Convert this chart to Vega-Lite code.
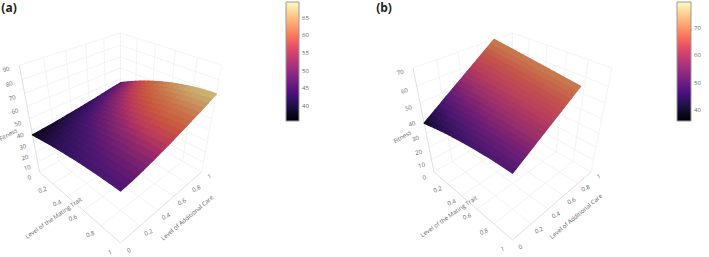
{"$schema":"https://vega.github.io/schema/vega-lite/v6.json","width":709,"height":257,"padding":0,"autosize":{"type":"none"},"background":"white","config":{"view":{"stroke":null}},
"projection":{"type":"identity","scale":1,"translate":[0,0]},
"datasets":{
"surfaceA":[
{"m":0,"c":0,"f":36},{"m":0,"c":0.05,"f":36.2},{"m":0,"c":0.1,"f":36.6},{"m":0,"c":0.15,"f":36.9},{"m":0,"c":0.2,"f":37.3},{"m":0,"c":0.25,"f":37.8},{"m":0,"c":0.3,"f":38.2},{"m":0,"c":0.35,"f":38.7},{"m":0,"c":0.4,"f":39.2},{"m":0,"c":0.45,"f":39.7},{"m":0,"c":0.5,"f":40.2},{"m":0,"c":0.55,"f":40.7},{"m":0,"c":0.6,"f":41.3},{"m":0,"c":0.65,"f":41.8},{"m":0,"c":0.7,"f":42.4},{"m":0,"c":0.75,"f":43},{"m":0,"c":0.8,"f":43.6},{"m":0,"c":0.85,"f":44.2},{"m":0,"c":0.9,"f":44.8},{"m":0,"c":0.95,"f":45.4},{"m":0,"c":1,"f":46},
{"m":0.05,"c":0,"f":36.8},{"m":0.05,"c":0.05,"f":37.1},{"m":0.05,"c":0.1,"f":37.4},{"m":0.05,"c":0.15,"f":37.8},{"m":0.05,"c":0.2,"f":38.3},{"m":0.05,"c":0.25,"f":38.8},{"m":0.05,"c":0.3,"f":39.3},{"m":0.05,"c":0.35,"f":39.8},{"m":0.05,"c":0.4,"f":40.4},{"m":0.05,"c":0.45,"f":40.9},{"m":0.05,"c":0.5,"f":41.5},{"m":0.05,"c":0.55,"f":42.1},{"m":0.05,"c":0.6,"f":42.7},{"m":0.05,"c":0.65,"f":43.3},{"m":0.05,"c":0.7,"f":44},{"m":0.05,"c":0.75,"f":44.6},{"m":0.05,"c":0.8,"f":45.3},{"m":0.05,"c":0.85,"f":45.9},{"m":0.05,"c":0.9,"f":46.6},{"m":0.05,"c":0.95,"f":47.3},{"m":0.05,"c":1,"f":48},
{"m":0.1,"c":0,"f":37.5},{"m":0.1,"c":0.05,"f":37.8},{"m":0.1,"c":0.1,"f":38.2},{"m":0.1,"c":0.15,"f":38.7},{"m":0.1,"c":0.2,"f":39.2},{"m":0.1,"c":0.25,"f":39.7},{"m":0.1,"c":0.3,"f":40.3},{"m":0.1,"c":0.35,"f":40.8},{"m":0.1,"c":0.4,"f":41.4},{"m":0.1,"c":0.45,"f":42.1},{"m":0.1,"c":0.5,"f":42.7},{"m":0.1,"c":0.55,"f":43.4},{"m":0.1,"c":0.6,"f":44},{"m":0.1,"c":0.65,"f":44.7},{"m":0.1,"c":0.7,"f":45.4},{"m":0.1,"c":0.75,"f":46.2},{"m":0.1,"c":0.8,"f":46.9},{"m":0.1,"c":0.85,"f":47.6},{"m":0.1,"c":0.9,"f":48.4},{"m":0.1,"c":0.95,"f":49.1},{"m":0.1,"c":1,"f":49.9},
{"m":0.15,"c":0,"f":38.2},{"m":0.15,"c":0.05,"f":38.5},{"m":0.15,"c":0.1,"f":39},{"m":0.15,"c":0.15,"f":39.5},{"m":0.15,"c":0.2,"f":40},{"m":0.15,"c":0.25,"f":40.6},{"m":0.15,"c":0.3,"f":41.2},{"m":0.15,"c":0.35,"f":41.9},{"m":0.15,"c":0.4,"f":42.5},{"m":0.15,"c":0.45,"f":43.2},{"m":0.15,"c":0.5,"f":43.9},{"m":0.15,"c":0.55,"f":44.6},{"m":0.15,"c":0.6,"f":45.4},{"m":0.15,"c":0.65,"f":46.1},{"m":0.15,"c":0.7,"f":46.9},{"m":0.15,"c":0.75,"f":47.7},{"m":0.15,"c":0.8,"f":48.5},{"m":0.15,"c":0.85,"f":49.3},{"m":0.15,"c":0.9,"f":50.1},{"m":0.15,"c":0.95,"f":51},{"m":0.15,"c":1,"f":51.8},
{"m":0.2,"c":0,"f":38.9},{"m":0.2,"c":0.05,"f":39.3},{"m":0.2,"c":0.1,"f":39.7},{"m":0.2,"c":0.15,"f":40.3},{"m":0.2,"c":0.2,"f":40.9},{"m":0.2,"c":0.25,"f":41.5},{"m":0.2,"c":0.3,"f":42.2},{"m":0.2,"c":0.35,"f":42.9},{"m":0.2,"c":0.4,"f":43.6},{"m":0.2,"c":0.45,"f":44.3},{"m":0.2,"c":0.5,"f":45.1},{"m":0.2,"c":0.55,"f":45.9},{"m":0.2,"c":0.6,"f":46.7},{"m":0.2,"c":0.65,"f":47.5},{"m":0.2,"c":0.7,"f":48.3},{"m":0.2,"c":0.75,"f":49.2},{"m":0.2,"c":0.8,"f":50},{"m":0.2,"c":0.85,"f":50.9},{"m":0.2,"c":0.9,"f":51.8},{"m":0.2,"c":0.95,"f":52.7},{"m":0.2,"c":1,"f":53.6},
{"m":0.25,"c":0,"f":39.6},{"m":0.25,"c":0.05,"f":40},{"m":0.25,"c":0.1,"f":40.5},{"m":0.25,"c":0.15,"f":41.1},{"m":0.25,"c":0.2,"f":41.7},{"m":0.25,"c":0.25,"f":42.4},{"m":0.25,"c":0.3,"f":43.1},{"m":0.25,"c":0.35,"f":43.8},{"m":0.25,"c":0.4,"f":44.6},{"m":0.25,"c":0.45,"f":45.4},{"m":0.25,"c":0.5,"f":46.2},{"m":0.25,"c":0.55,"f":47},{"m":0.25,"c":0.6,"f":47.9},{"m":0.25,"c":0.65,"f":48.8},{"m":0.25,"c":0.7,"f":49.6},{"m":0.25,"c":0.75,"f":50.6},{"m":0.25,"c":0.8,"f":51.5},{"m":0.25,"c":0.85,"f":52.4},{"m":0.25,"c":0.9,"f":53.4},{"m":0.25,"c":0.95,"f":54.3},{"m":0.25,"c":1,"f":55.3},
{"m":0.3,"c":0,"f":40.2},{"m":0.3,"c":0.05,"f":40.6},{"m":0.3,"c":0.1,"f":41.1},{"m":0.3,"c":0.15,"f":41.8},{"m":0.3,"c":0.2,"f":42.4},{"m":0.3,"c":0.25,"f":43.2},{"m":0.3,"c":0.3,"f":43.9},{"m":0.3,"c":0.35,"f":44.7},{"m":0.3,"c":0.4,"f":45.5},{"m":0.3,"c":0.45,"f":46.4},{"m":0.3,"c":0.5,"f":47.2},{"m":0.3,"c":0.55,"f":48.1},{"m":0.3,"c":0.6,"f":49},{"m":0.3,"c":0.65,"f":50},{"m":0.3,"c":0.7,"f":50.9},{"m":0.3,"c":0.75,"f":51.9},{"m":0.3,"c":0.8,"f":52.8},{"m":0.3,"c":0.85,"f":53.8},{"m":0.3,"c":0.9,"f":54.8},{"m":0.3,"c":0.95,"f":55.9},{"m":0.3,"c":1,"f":56.9},
{"m":0.35,"c":0,"f":40.8},{"m":0.35,"c":0.05,"f":41.2},{"m":0.35,"c":0.1,"f":41.8},{"m":0.35,"c":0.15,"f":42.4},{"m":0.35,"c":0.2,"f":43.2},{"m":0.35,"c":0.25,"f":43.9},{"m":0.35,"c":0.3,"f":44.7},{"m":0.35,"c":0.35,"f":45.6},{"m":0.35,"c":0.4,"f":46.4},{"m":0.35,"c":0.45,"f":47.3},{"m":0.35,"c":0.5,"f":48.2},{"m":0.35,"c":0.55,"f":49.2},{"m":0.35,"c":0.6,"f":50.1},{"m":0.35,"c":0.65,"f":51.1},{"m":0.35,"c":0.7,"f":52.1},{"m":0.35,"c":0.75,"f":53.2},{"m":0.35,"c":0.8,"f":54.2},{"m":0.35,"c":0.85,"f":55.2},{"m":0.35,"c":0.9,"f":56.3},{"m":0.35,"c":0.95,"f":57.4},{"m":0.35,"c":1,"f":58.5},
{"m":0.4,"c":0,"f":41.3},{"m":0.4,"c":0.05,"f":41.7},{"m":0.4,"c":0.1,"f":42.3},{"m":0.4,"c":0.15,"f":43},{"m":0.4,"c":0.2,"f":43.8},{"m":0.4,"c":0.25,"f":44.6},{"m":0.4,"c":0.3,"f":45.4},{"m":0.4,"c":0.35,"f":46.3},{"m":0.4,"c":0.4,"f":47.2},{"m":0.4,"c":0.45,"f":48.2},{"m":0.4,"c":0.5,"f":49.1},{"m":0.4,"c":0.55,"f":50.1},{"m":0.4,"c":0.6,"f":51.1},{"m":0.4,"c":0.65,"f":52.2},{"m":0.4,"c":0.7,"f":53.2},{"m":0.4,"c":0.75,"f":54.3},{"m":0.4,"c":0.8,"f":55.4},{"m":0.4,"c":0.85,"f":56.5},{"m":0.4,"c":0.9,"f":57.6},{"m":0.4,"c":0.95,"f":58.7},{"m":0.4,"c":1,"f":59.9},
{"m":0.45,"c":0,"f":41.8},{"m":0.45,"c":0.05,"f":42.3},{"m":0.45,"c":0.1,"f":42.9},{"m":0.45,"c":0.15,"f":43.6},{"m":0.45,"c":0.2,"f":44.4},{"m":0.45,"c":0.25,"f":45.2},{"m":0.45,"c":0.3,"f":46.1},{"m":0.45,"c":0.35,"f":47},{"m":0.45,"c":0.4,"f":48},{"m":0.45,"c":0.45,"f":49},{"m":0.45,"c":0.5,"f":50},{"m":0.45,"c":0.55,"f":51},{"m":0.45,"c":0.6,"f":52},{"m":0.45,"c":0.65,"f":53.1},{"m":0.45,"c":0.7,"f":54.2},{"m":0.45,"c":0.75,"f":55.3},{"m":0.45,"c":0.8,"f":56.5},{"m":0.45,"c":0.85,"f":57.6},{"m":0.45,"c":0.9,"f":58.8},{"m":0.45,"c":0.95,"f":60},{"m":0.45,"c":1,"f":61.2},
{"m":0.5,"c":0,"f":42.3},{"m":0.5,"c":0.05,"f":42.8},{"m":0.5,"c":0.1,"f":43.4},{"m":0.5,"c":0.15,"f":44.2},{"m":0.5,"c":0.2,"f":45},{"m":0.5,"c":0.25,"f":45.9},{"m":0.5,"c":0.3,"f":46.8},{"m":0.5,"c":0.35,"f":47.7},{"m":0.5,"c":0.4,"f":48.7},{"m":0.5,"c":0.45,"f":49.8},{"m":0.5,"c":0.5,"f":50.8},{"m":0.5,"c":0.55,"f":51.9},{"m":0.5,"c":0.6,"f":53},{"m":0.5,"c":0.65,"f":54.1},{"m":0.5,"c":0.7,"f":55.2},{"m":0.5,"c":0.75,"f":56.4},{"m":0.5,"c":0.8,"f":57.6},{"m":0.5,"c":0.85,"f":58.8},{"m":0.5,"c":0.9,"f":60},{"m":0.5,"c":0.95,"f":61.2},{"m":0.5,"c":1,"f":62.5},
{"m":0.55,"c":0,"f":42.8},{"m":0.55,"c":0.05,"f":43.3},{"m":0.55,"c":0.1,"f":44},{"m":0.55,"c":0.15,"f":44.7},{"m":0.55,"c":0.2,"f":45.6},{"m":0.55,"c":0.25,"f":46.5},{"m":0.55,"c":0.3,"f":47.4},{"m":0.55,"c":0.35,"f":48.4},{"m":0.55,"c":0.4,"f":49.4},{"m":0.55,"c":0.45,"f":50.5},{"m":0.55,"c":0.5,"f":51.6},{"m":0.55,"c":0.55,"f":52.7},{"m":0.55,"c":0.6,"f":53.8},{"m":0.55,"c":0.65,"f":55},{"m":0.55,"c":0.7,"f":56.2},{"m":0.55,"c":0.75,"f":57.4},{"m":0.55,"c":0.8,"f":58.6},{"m":0.55,"c":0.85,"f":59.9},{"m":0.55,"c":0.9,"f":61.1},{"m":0.55,"c":0.95,"f":62.4},{"m":0.55,"c":1,"f":63.7},
{"m":0.6,"c":0,"f":43.2},{"m":0.6,"c":0.05,"f":43.7},{"m":0.6,"c":0.1,"f":44.4},{"m":0.6,"c":0.15,"f":45.2},{"m":0.6,"c":0.2,"f":46.1},{"m":0.6,"c":0.25,"f":47},{"m":0.6,"c":0.3,"f":48},{"m":0.6,"c":0.35,"f":49},{"m":0.6,"c":0.4,"f":50.1},{"m":0.6,"c":0.45,"f":51.2},{"m":0.6,"c":0.5,"f":52.3},{"m":0.6,"c":0.55,"f":53.4},{"m":0.6,"c":0.6,"f":54.6},{"m":0.6,"c":0.65,"f":55.8},{"m":0.6,"c":0.7,"f":57},{"m":0.6,"c":0.75,"f":58.3},{"m":0.6,"c":0.8,"f":59.6},{"m":0.6,"c":0.85,"f":60.8},{"m":0.6,"c":0.9,"f":62.1},{"m":0.6,"c":0.95,"f":63.5},{"m":0.6,"c":1,"f":64.8},
{"m":0.65,"c":0,"f":43.6},{"m":0.65,"c":0.05,"f":44.1},{"m":0.65,"c":0.1,"f":44.8},{"m":0.65,"c":0.15,"f":45.7},{"m":0.65,"c":0.2,"f":46.6},{"m":0.65,"c":0.25,"f":47.5},{"m":0.65,"c":0.3,"f":48.5},{"m":0.65,"c":0.35,"f":49.6},{"m":0.65,"c":0.4,"f":50.7},{"m":0.65,"c":0.45,"f":51.8},{"m":0.65,"c":0.5,"f":52.9},{"m":0.65,"c":0.55,"f":54.1},{"m":0.65,"c":0.6,"f":55.3},{"m":0.65,"c":0.65,"f":56.6},{"m":0.65,"c":0.7,"f":57.8},{"m":0.65,"c":0.75,"f":59.1},{"m":0.65,"c":0.8,"f":60.4},{"m":0.65,"c":0.85,"f":61.7},{"m":0.65,"c":0.9,"f":63.1},{"m":0.65,"c":0.95,"f":64.4},{"m":0.65,"c":1,"f":65.8},
{"m":0.7,"c":0,"f":43.9},{"m":0.7,"c":0.05,"f":44.4},{"m":0.7,"c":0.1,"f":45.2},{"m":0.7,"c":0.15,"f":46},{"m":0.7,"c":0.2,"f":46.9},{"m":0.7,"c":0.25,"f":47.9},{"m":0.7,"c":0.3,"f":48.9},{"m":0.7,"c":0.35,"f":50},{"m":0.7,"c":0.4,"f":51.1},{"m":0.7,"c":0.45,"f":52.3},{"m":0.7,"c":0.5,"f":53.4},{"m":0.7,"c":0.55,"f":54.7},{"m":0.7,"c":0.6,"f":55.9},{"m":0.7,"c":0.65,"f":57.2},{"m":0.7,"c":0.7,"f":58.4},{"m":0.7,"c":0.75,"f":59.7},{"m":0.7,"c":0.8,"f":61.1},{"m":0.7,"c":0.85,"f":62.4},{"m":0.7,"c":0.9,"f":63.8},{"m":0.7,"c":0.95,"f":65.2},{"m":0.7,"c":1,"f":66.6},
{"m":0.75,"c":0,"f":44.2},{"m":0.75,"c":0.05,"f":44.8},{"m":0.75,"c":0.1,"f":45.5},{"m":0.75,"c":0.15,"f":46.4},{"m":0.75,"c":0.2,"f":47.3},{"m":0.75,"c":0.25,"f":48.3},{"m":0.75,"c":0.3,"f":49.3},{"m":0.75,"c":0.35,"f":50.4},{"m":0.75,"c":0.4,"f":51.6},{"m":0.75,"c":0.45,"f":52.8},{"m":0.75,"c":0.5,"f":53.9},{"m":0.75,"c":0.55,"f":55.2},{"m":0.75,"c":0.6,"f":56.4},{"m":0.75,"c":0.65,"f":57.7},{"m":0.75,"c":0.7,"f":59},{"m":0.75,"c":0.75,"f":60.4},{"m":0.75,"c":0.8,"f":61.8},{"m":0.75,"c":0.85,"f":63.1},{"m":0.75,"c":0.9,"f":64.5},{"m":0.75,"c":0.95,"f":66},{"m":0.75,"c":1,"f":67.4},
{"m":0.8,"c":0,"f":44.5},{"m":0.8,"c":0.05,"f":45.1},{"m":0.8,"c":0.1,"f":45.8},{"m":0.8,"c":0.15,"f":46.7},{"m":0.8,"c":0.2,"f":47.7},{"m":0.8,"c":0.25,"f":48.7},{"m":0.8,"c":0.3,"f":49.7},{"m":0.8,"c":0.35,"f":50.8},{"m":0.8,"c":0.4,"f":52},{"m":0.8,"c":0.45,"f":53.2},{"m":0.8,"c":0.5,"f":54.4},{"m":0.8,"c":0.55,"f":55.7},{"m":0.8,"c":0.6,"f":57},{"m":0.8,"c":0.65,"f":58.3},{"m":0.8,"c":0.7,"f":59.6},{"m":0.8,"c":0.75,"f":61},{"m":0.8,"c":0.8,"f":62.4},{"m":0.8,"c":0.85,"f":63.8},{"m":0.8,"c":0.9,"f":65.2},{"m":0.8,"c":0.95,"f":66.6},{"m":0.8,"c":1,"f":68.1},
{"m":0.85,"c":0,"f":44.7},{"m":0.85,"c":0.05,"f":45.3},{"m":0.85,"c":0.1,"f":46},{"m":0.85,"c":0.15,"f":46.9},{"m":0.85,"c":0.2,"f":47.9},{"m":0.85,"c":0.25,"f":48.9},{"m":0.85,"c":0.3,"f":50},{"m":0.85,"c":0.35,"f":51.2},{"m":0.85,"c":0.4,"f":52.3},{"m":0.85,"c":0.45,"f":53.6},{"m":0.85,"c":0.5,"f":54.8},{"m":0.85,"c":0.55,"f":56.1},{"m":0.85,"c":0.6,"f":57.4},{"m":0.85,"c":0.65,"f":58.7},{"m":0.85,"c":0.7,"f":60},{"m":0.85,"c":0.75,"f":61.5},{"m":0.85,"c":0.8,"f":62.9},{"m":0.85,"c":0.85,"f":64.3},{"m":0.85,"c":0.9,"f":65.7},{"m":0.85,"c":0.95,"f":67.2},{"m":0.85,"c":1,"f":68.7},
{"m":0.9,"c":0,"f":44.8},{"m":0.9,"c":0.05,"f":45.4},{"m":0.9,"c":0.1,"f":46.2},{"m":0.9,"c":0.15,"f":47.1},{"m":0.9,"c":0.2,"f":48},{"m":0.9,"c":0.25,"f":49.1},{"m":0.9,"c":0.3,"f":50.2},{"m":0.9,"c":0.35,"f":51.3},{"m":0.9,"c":0.4,"f":52.5},{"m":0.9,"c":0.45,"f":53.7},{"m":0.9,"c":0.5,"f":55},{"m":0.9,"c":0.55,"f":56.3},{"m":0.9,"c":0.6,"f":57.6},{"m":0.9,"c":0.65,"f":58.9},{"m":0.9,"c":0.7,"f":60.3},{"m":0.9,"c":0.75,"f":61.7},{"m":0.9,"c":0.8,"f":63.1},{"m":0.9,"c":0.85,"f":64.5},{"m":0.9,"c":0.9,"f":66},{"m":0.9,"c":0.95,"f":67.5},{"m":0.9,"c":1,"f":69},
{"m":0.95,"c":0,"f":45},{"m":0.95,"c":0.05,"f":45.6},{"m":0.95,"c":0.1,"f":46.4},{"m":0.95,"c":0.15,"f":47.3},{"m":0.95,"c":0.2,"f":48.3},{"m":0.95,"c":0.25,"f":49.3},{"m":0.95,"c":0.3,"f":50.4},{"m":0.95,"c":0.35,"f":51.6},{"m":0.95,"c":0.4,"f":52.8},{"m":0.95,"c":0.45,"f":54},{"m":0.95,"c":0.5,"f":55.2},{"m":0.95,"c":0.55,"f":56.6},{"m":0.95,"c":0.6,"f":57.9},{"m":0.95,"c":0.65,"f":59.2},{"m":0.95,"c":0.7,"f":60.6},{"m":0.95,"c":0.75,"f":62},{"m":0.95,"c":0.8,"f":63.5},{"m":0.95,"c":0.85,"f":64.9},{"m":0.95,"c":0.9,"f":66.4},{"m":0.95,"c":0.95,"f":67.9},{"m":0.95,"c":1,"f":69.4},
{"m":1,"c":0,"f":45},{"m":1,"c":0.05,"f":45.6},{"m":1,"c":0.1,"f":46.4},{"m":1,"c":0.15,"f":47.3},{"m":1,"c":0.2,"f":48.3},{"m":1,"c":0.25,"f":49.3},{"m":1,"c":0.3,"f":50.4},{"m":1,"c":0.35,"f":51.6},{"m":1,"c":0.4,"f":52.8},{"m":1,"c":0.45,"f":54},{"m":1,"c":0.5,"f":55.3},{"m":1,"c":0.55,"f":56.6},{"m":1,"c":0.6,"f":57.9},{"m":1,"c":0.65,"f":59.3},{"m":1,"c":0.7,"f":60.7},{"m":1,"c":0.75,"f":62.1},{"m":1,"c":0.8,"f":63.5},{"m":1,"c":0.85,"f":65},{"m":1,"c":0.9,"f":66.5},{"m":1,"c":0.95,"f":68},{"m":1,"c":1,"f":69.5}
],
"surfaceB":[
{"m":0,"j":0,"c":0,"f":37},{"m":0,"j":1,"c":0.039,"f":38.7},{"m":0,"j":2,"c":0.078,"f":40.3},{"m":0,"j":3,"c":0.117,"f":42},{"m":0,"j":4,"c":0.156,"f":43.6},{"m":0,"j":5,"c":0.195,"f":45.3},{"m":0,"j":6,"c":0.234,"f":47},{"m":0,"j":7,"c":0.273,"f":48.6},{"m":0,"j":8,"c":0.312,"f":50.2},{"m":0,"j":9,"c":0.351,"f":51.9},{"m":0,"j":10,"c":0.39,"f":53.5},{"m":0,"j":11,"c":0.429,"f":55.2},{"m":0,"j":12,"c":0.468,"f":56.8},{"m":0,"j":13,"c":0.507,"f":58.5},{"m":0,"j":14,"c":0.546,"f":60.1},{"m":0,"j":15,"c":0.585,"f":61.8},{"m":0,"j":16,"c":0.624,"f":63.4},{"m":0,"j":17,"c":0.663,"f":65.1},{"m":0,"j":18,"c":0.702,"f":66.7},{"m":0,"j":19,"c":0.741,"f":68.4},{"m":0,"j":20,"c":0.78,"f":70},
{"m":0.05,"j":0,"c":0,"f":37.8},{"m":0.05,"j":1,"c":0.039,"f":39.4},{"m":0.05,"j":2,"c":0.077,"f":41},{"m":0.05,"j":3,"c":0.116,"f":42.6},{"m":0.05,"j":4,"c":0.154,"f":44.2},{"m":0.05,"j":5,"c":0.193,"f":45.9},{"m":0.05,"j":6,"c":0.232,"f":47.5},{"m":0.05,"j":7,"c":0.27,"f":49.1},{"m":0.05,"j":8,"c":0.309,"f":50.7},{"m":0.05,"j":9,"c":0.347,"f":52.3},{"m":0.05,"j":10,"c":0.386,"f":53.9},{"m":0.05,"j":11,"c":0.425,"f":55.5},{"m":0.05,"j":12,"c":0.463,"f":57.1},{"m":0.05,"j":13,"c":0.502,"f":58.7},{"m":0.05,"j":14,"c":0.54,"f":60.3},{"m":0.05,"j":15,"c":0.579,"f":61.9},{"m":0.05,"j":16,"c":0.618,"f":63.6},{"m":0.05,"j":17,"c":0.656,"f":65.2},{"m":0.05,"j":18,"c":0.695,"f":66.8},{"m":0.05,"j":19,"c":0.733,"f":68.4},{"m":0.05,"j":20,"c":0.772,"f":70},
{"m":0.1,"j":0,"c":0,"f":38.5},{"m":0.1,"j":1,"c":0.038,"f":40.1},{"m":0.1,"j":2,"c":0.076,"f":41.7},{"m":0.1,"j":3,"c":0.115,"f":43.2},{"m":0.1,"j":4,"c":0.153,"f":44.8},{"m":0.1,"j":5,"c":0.191,"f":46.4},{"m":0.1,"j":6,"c":0.229,"f":48},{"m":0.1,"j":7,"c":0.267,"f":49.5},{"m":0.1,"j":8,"c":0.306,"f":51.1},{"m":0.1,"j":9,"c":0.344,"f":52.7},{"m":0.1,"j":10,"c":0.382,"f":54.3},{"m":0.1,"j":11,"c":0.42,"f":55.8},{"m":0.1,"j":12,"c":0.458,"f":57.4},{"m":0.1,"j":13,"c":0.497,"f":59},{"m":0.1,"j":14,"c":0.535,"f":60.6},{"m":0.1,"j":15,"c":0.573,"f":62.1},{"m":0.1,"j":16,"c":0.611,"f":63.7},{"m":0.1,"j":17,"c":0.649,"f":65.3},{"m":0.1,"j":18,"c":0.688,"f":66.9},{"m":0.1,"j":19,"c":0.726,"f":68.4},{"m":0.1,"j":20,"c":0.764,"f":70},
{"m":0.15,"j":0,"c":0,"f":39.2},{"m":0.15,"j":1,"c":0.038,"f":40.7},{"m":0.15,"j":2,"c":0.076,"f":42.3},{"m":0.15,"j":3,"c":0.113,"f":43.8},{"m":0.15,"j":4,"c":0.151,"f":45.4},{"m":0.15,"j":5,"c":0.189,"f":46.9},{"m":0.15,"j":6,"c":0.227,"f":48.4},{"m":0.15,"j":7,"c":0.265,"f":50},{"m":0.15,"j":8,"c":0.302,"f":51.5},{"m":0.15,"j":9,"c":0.34,"f":53.1},{"m":0.15,"j":10,"c":0.378,"f":54.6},{"m":0.15,"j":11,"c":0.416,"f":56.1},{"m":0.15,"j":12,"c":0.454,"f":57.7},{"m":0.15,"j":13,"c":0.491,"f":59.2},{"m":0.15,"j":14,"c":0.529,"f":60.8},{"m":0.15,"j":15,"c":0.567,"f":62.3},{"m":0.15,"j":16,"c":0.605,"f":63.8},{"m":0.15,"j":17,"c":0.643,"f":65.4},{"m":0.15,"j":18,"c":0.68,"f":66.9},{"m":0.15,"j":19,"c":0.718,"f":68.5},{"m":0.15,"j":20,"c":0.756,"f":70},
{"m":0.2,"j":0,"c":0,"f":39.9},{"m":0.2,"j":1,"c":0.037,"f":41.4},{"m":0.2,"j":2,"c":0.075,"f":42.9},{"m":0.2,"j":3,"c":0.112,"f":44.4},{"m":0.2,"j":4,"c":0.15,"f":45.9},{"m":0.2,"j":5,"c":0.187,"f":47.4},{"m":0.2,"j":6,"c":0.224,"f":48.9},{"m":0.2,"j":7,"c":0.262,"f":50.4},{"m":0.2,"j":8,"c":0.299,"f":51.9},{"m":0.2,"j":9,"c":0.337,"f":53.4},{"m":0.2,"j":10,"c":0.374,"f":55},{"m":0.2,"j":11,"c":0.411,"f":56.5},{"m":0.2,"j":12,"c":0.449,"f":58},{"m":0.2,"j":13,"c":0.486,"f":59.5},{"m":0.2,"j":14,"c":0.524,"f":61},{"m":0.2,"j":15,"c":0.561,"f":62.5},{"m":0.2,"j":16,"c":0.598,"f":64},{"m":0.2,"j":17,"c":0.636,"f":65.5},{"m":0.2,"j":18,"c":0.673,"f":67},{"m":0.2,"j":19,"c":0.711,"f":68.5},{"m":0.2,"j":20,"c":0.748,"f":70},
{"m":0.25,"j":0,"c":0,"f":40.6},{"m":0.25,"j":1,"c":0.037,"f":42.1},{"m":0.25,"j":2,"c":0.074,"f":43.5},{"m":0.25,"j":3,"c":0.111,"f":45},{"m":0.25,"j":4,"c":0.148,"f":46.5},{"m":0.25,"j":5,"c":0.185,"f":47.9},{"m":0.25,"j":6,"c":0.222,"f":49.4},{"m":0.25,"j":7,"c":0.259,"f":50.9},{"m":0.25,"j":8,"c":0.296,"f":52.4},{"m":0.25,"j":9,"c":0.333,"f":53.8},{"m":0.25,"j":10,"c":0.37,"f":55.3},{"m":0.25,"j":11,"c":0.407,"f":56.8},{"m":0.25,"j":12,"c":0.444,"f":58.2},{"m":0.25,"j":13,"c":0.481,"f":59.7},{"m":0.25,"j":14,"c":0.518,"f":61.2},{"m":0.25,"j":15,"c":0.555,"f":62.7},{"m":0.25,"j":16,"c":0.592,"f":64.1},{"m":0.25,"j":17,"c":0.629,"f":65.6},{"m":0.25,"j":18,"c":0.666,"f":67.1},{"m":0.25,"j":19,"c":0.703,"f":68.5},{"m":0.25,"j":20,"c":0.74,"f":70},
{"m":0.3,"j":0,"c":0,"f":41.2},{"m":0.3,"j":1,"c":0.037,"f":42.6},{"m":0.3,"j":2,"c":0.073,"f":44.1},{"m":0.3,"j":3,"c":0.11,"f":45.5},{"m":0.3,"j":4,"c":0.146,"f":47},{"m":0.3,"j":5,"c":0.183,"f":48.4},{"m":0.3,"j":6,"c":0.22,"f":49.8},{"m":0.3,"j":7,"c":0.256,"f":51.3},{"m":0.3,"j":8,"c":0.293,"f":52.7},{"m":0.3,"j":9,"c":0.329,"f":54.2},{"m":0.3,"j":10,"c":0.366,"f":55.6},{"m":0.3,"j":11,"c":0.403,"f":57},{"m":0.3,"j":12,"c":0.439,"f":58.5},{"m":0.3,"j":13,"c":0.476,"f":59.9},{"m":0.3,"j":14,"c":0.512,"f":61.4},{"m":0.3,"j":15,"c":0.549,"f":62.8},{"m":0.3,"j":16,"c":0.586,"f":64.2},{"m":0.3,"j":17,"c":0.622,"f":65.7},{"m":0.3,"j":18,"c":0.659,"f":67.1},{"m":0.3,"j":19,"c":0.695,"f":68.6},{"m":0.3,"j":20,"c":0.732,"f":70},
{"m":0.35,"j":0,"c":0,"f":41.8},{"m":0.35,"j":1,"c":0.036,"f":43.2},{"m":0.35,"j":2,"c":0.072,"f":44.6},{"m":0.35,"j":3,"c":0.109,"f":46},{"m":0.35,"j":4,"c":0.145,"f":47.4},{"m":0.35,"j":5,"c":0.181,"f":48.9},{"m":0.35,"j":6,"c":0.217,"f":50.3},{"m":0.35,"j":7,"c":0.253,"f":51.7},{"m":0.35,"j":8,"c":0.29,"f":53.1},{"m":0.35,"j":9,"c":0.326,"f":54.5},{"m":0.35,"j":10,"c":0.362,"f":55.9},{"m":0.35,"j":11,"c":0.398,"f":57.3},{"m":0.35,"j":12,"c":0.434,"f":58.7},{"m":0.35,"j":13,"c":0.471,"f":60.1},{"m":0.35,"j":14,"c":0.507,"f":61.5},{"m":0.35,"j":15,"c":0.543,"f":63},{"m":0.35,"j":16,"c":0.579,"f":64.4},{"m":0.35,"j":17,"c":0.615,"f":65.8},{"m":0.35,"j":18,"c":0.652,"f":67.2},{"m":0.35,"j":19,"c":0.688,"f":68.6},{"m":0.35,"j":20,"c":0.724,"f":70},
{"m":0.4,"j":0,"c":0,"f":42.3},{"m":0.4,"j":1,"c":0.036,"f":43.7},{"m":0.4,"j":2,"c":0.072,"f":45.1},{"m":0.4,"j":3,"c":0.107,"f":46.5},{"m":0.4,"j":4,"c":0.143,"f":47.8},{"m":0.4,"j":5,"c":0.179,"f":49.2},{"m":0.4,"j":6,"c":0.215,"f":50.6},{"m":0.4,"j":7,"c":0.251,"f":52},{"m":0.4,"j":8,"c":0.286,"f":53.4},{"m":0.4,"j":9,"c":0.322,"f":54.8},{"m":0.4,"j":10,"c":0.358,"f":56.2},{"m":0.4,"j":11,"c":0.394,"f":57.5},{"m":0.4,"j":12,"c":0.43,"f":58.9},{"m":0.4,"j":13,"c":0.465,"f":60.3},{"m":0.4,"j":14,"c":0.501,"f":61.7},{"m":0.4,"j":15,"c":0.537,"f":63.1},{"m":0.4,"j":16,"c":0.573,"f":64.5},{"m":0.4,"j":17,"c":0.609,"f":65.8},{"m":0.4,"j":18,"c":0.644,"f":67.2},{"m":0.4,"j":19,"c":0.68,"f":68.6},{"m":0.4,"j":20,"c":0.716,"f":70},
{"m":0.45,"j":0,"c":0,"f":42.8},{"m":0.45,"j":1,"c":0.035,"f":44.2},{"m":0.45,"j":2,"c":0.071,"f":45.5},{"m":0.45,"j":3,"c":0.106,"f":46.9},{"m":0.45,"j":4,"c":0.142,"f":48.2},{"m":0.45,"j":5,"c":0.177,"f":49.6},{"m":0.45,"j":6,"c":0.212,"f":51},{"m":0.45,"j":7,"c":0.248,"f":52.3},{"m":0.45,"j":8,"c":0.283,"f":53.7},{"m":0.45,"j":9,"c":0.319,"f":55},{"m":0.45,"j":10,"c":0.354,"f":56.4},{"m":0.45,"j":11,"c":0.389,"f":57.8},{"m":0.45,"j":12,"c":0.425,"f":59.1},{"m":0.45,"j":13,"c":0.46,"f":60.5},{"m":0.45,"j":14,"c":0.496,"f":61.8},{"m":0.45,"j":15,"c":0.531,"f":63.2},{"m":0.45,"j":16,"c":0.566,"f":64.6},{"m":0.45,"j":17,"c":0.602,"f":65.9},{"m":0.45,"j":18,"c":0.637,"f":67.3},{"m":0.45,"j":19,"c":0.673,"f":68.6},{"m":0.45,"j":20,"c":0.708,"f":70},
{"m":0.5,"j":0,"c":0,"f":43.3},{"m":0.5,"j":1,"c":0.035,"f":44.6},{"m":0.5,"j":2,"c":0.07,"f":46},{"m":0.5,"j":3,"c":0.105,"f":47.3},{"m":0.5,"j":4,"c":0.14,"f":48.6},{"m":0.5,"j":5,"c":0.175,"f":50},{"m":0.5,"j":6,"c":0.21,"f":51.3},{"m":0.5,"j":7,"c":0.245,"f":52.6},{"m":0.5,"j":8,"c":0.28,"f":54},{"m":0.5,"j":9,"c":0.315,"f":55.3},{"m":0.5,"j":10,"c":0.35,"f":56.7},{"m":0.5,"j":11,"c":0.385,"f":58},{"m":0.5,"j":12,"c":0.42,"f":59.3},{"m":0.5,"j":13,"c":0.455,"f":60.7},{"m":0.5,"j":14,"c":0.49,"f":62},{"m":0.5,"j":15,"c":0.525,"f":63.3},{"m":0.5,"j":16,"c":0.56,"f":64.7},{"m":0.5,"j":17,"c":0.595,"f":66},{"m":0.5,"j":18,"c":0.63,"f":67.3},{"m":0.5,"j":19,"c":0.665,"f":68.7},{"m":0.5,"j":20,"c":0.7,"f":70},
{"m":0.55,"j":0,"c":0,"f":43.8},{"m":0.55,"j":1,"c":0.035,"f":45.1},{"m":0.55,"j":2,"c":0.069,"f":46.4},{"m":0.55,"j":3,"c":0.104,"f":47.7},{"m":0.55,"j":4,"c":0.138,"f":49},{"m":0.55,"j":5,"c":0.173,"f":50.4},{"m":0.55,"j":6,"c":0.208,"f":51.7},{"m":0.55,"j":7,"c":0.242,"f":53},{"m":0.55,"j":8,"c":0.277,"f":54.3},{"m":0.55,"j":9,"c":0.311,"f":55.6},{"m":0.55,"j":10,"c":0.346,"f":56.9},{"m":0.55,"j":11,"c":0.381,"f":58.2},{"m":0.55,"j":12,"c":0.415,"f":59.5},{"m":0.55,"j":13,"c":0.45,"f":60.8},{"m":0.55,"j":14,"c":0.484,"f":62.1},{"m":0.55,"j":15,"c":0.519,"f":63.5},{"m":0.55,"j":16,"c":0.554,"f":64.8},{"m":0.55,"j":17,"c":0.588,"f":66.1},{"m":0.55,"j":18,"c":0.623,"f":67.4},{"m":0.55,"j":19,"c":0.657,"f":68.7},{"m":0.55,"j":20,"c":0.692,"f":70},
{"m":0.6,"j":0,"c":0,"f":44.2},{"m":0.6,"j":1,"c":0.034,"f":45.5},{"m":0.6,"j":2,"c":0.068,"f":46.8},{"m":0.6,"j":3,"c":0.103,"f":48.1},{"m":0.6,"j":4,"c":0.137,"f":49.4},{"m":0.6,"j":5,"c":0.171,"f":50.7},{"m":0.6,"j":6,"c":0.205,"f":51.9},{"m":0.6,"j":7,"c":0.239,"f":53.2},{"m":0.6,"j":8,"c":0.274,"f":54.5},{"m":0.6,"j":9,"c":0.308,"f":55.8},{"m":0.6,"j":10,"c":0.342,"f":57.1},{"m":0.6,"j":11,"c":0.376,"f":58.4},{"m":0.6,"j":12,"c":0.41,"f":59.7},{"m":0.6,"j":13,"c":0.445,"f":61},{"m":0.6,"j":14,"c":0.479,"f":62.3},{"m":0.6,"j":15,"c":0.513,"f":63.6},{"m":0.6,"j":16,"c":0.547,"f":64.8},{"m":0.6,"j":17,"c":0.581,"f":66.1},{"m":0.6,"j":18,"c":0.616,"f":67.4},{"m":0.6,"j":19,"c":0.65,"f":68.7},{"m":0.6,"j":20,"c":0.684,"f":70},
{"m":0.65,"j":0,"c":0,"f":44.6},{"m":0.65,"j":1,"c":0.034,"f":45.9},{"m":0.65,"j":2,"c":0.068,"f":47.1},{"m":0.65,"j":3,"c":0.101,"f":48.4},{"m":0.65,"j":4,"c":0.135,"f":49.7},{"m":0.65,"j":5,"c":0.169,"f":51},{"m":0.65,"j":6,"c":0.203,"f":52.2},{"m":0.65,"j":7,"c":0.237,"f":53.5},{"m":0.65,"j":8,"c":0.27,"f":54.8},{"m":0.65,"j":9,"c":0.304,"f":56},{"m":0.65,"j":10,"c":0.338,"f":57.3},{"m":0.65,"j":11,"c":0.372,"f":58.6},{"m":0.65,"j":12,"c":0.406,"f":59.8},{"m":0.65,"j":13,"c":0.439,"f":61.1},{"m":0.65,"j":14,"c":0.473,"f":62.4},{"m":0.65,"j":15,"c":0.507,"f":63.7},{"m":0.65,"j":16,"c":0.541,"f":64.9},{"m":0.65,"j":17,"c":0.575,"f":66.2},{"m":0.65,"j":18,"c":0.608,"f":67.5},{"m":0.65,"j":19,"c":0.642,"f":68.7},{"m":0.65,"j":20,"c":0.676,"f":70},
{"m":0.7,"j":0,"c":0,"f":44.9},{"m":0.7,"j":1,"c":0.033,"f":46.2},{"m":0.7,"j":2,"c":0.067,"f":47.4},{"m":0.7,"j":3,"c":0.1,"f":48.7},{"m":0.7,"j":4,"c":0.134,"f":49.9},{"m":0.7,"j":5,"c":0.167,"f":51.2},{"m":0.7,"j":6,"c":0.2,"f":52.4},{"m":0.7,"j":7,"c":0.234,"f":53.7},{"m":0.7,"j":8,"c":0.267,"f":54.9},{"m":0.7,"j":9,"c":0.301,"f":56.2},{"m":0.7,"j":10,"c":0.334,"f":57.5},{"m":0.7,"j":11,"c":0.367,"f":58.7},{"m":0.7,"j":12,"c":0.401,"f":60},{"m":0.7,"j":13,"c":0.434,"f":61.2},{"m":0.7,"j":14,"c":0.468,"f":62.5},{"m":0.7,"j":15,"c":0.501,"f":63.7},{"m":0.7,"j":16,"c":0.534,"f":65},{"m":0.7,"j":17,"c":0.568,"f":66.2},{"m":0.7,"j":18,"c":0.601,"f":67.5},{"m":0.7,"j":19,"c":0.635,"f":68.7},{"m":0.7,"j":20,"c":0.668,"f":70},
{"m":0.75,"j":0,"c":0,"f":45.2},{"m":0.75,"j":1,"c":0.033,"f":46.4},{"m":0.75,"j":2,"c":0.066,"f":47.7},{"m":0.75,"j":3,"c":0.099,"f":48.9},{"m":0.75,"j":4,"c":0.132,"f":50.2},{"m":0.75,"j":5,"c":0.165,"f":51.4},{"m":0.75,"j":6,"c":0.198,"f":52.6},{"m":0.75,"j":7,"c":0.231,"f":53.9},{"m":0.75,"j":8,"c":0.264,"f":55.1},{"m":0.75,"j":9,"c":0.297,"f":56.4},{"m":0.75,"j":10,"c":0.33,"f":57.6},{"m":0.75,"j":11,"c":0.363,"f":58.8},{"m":0.75,"j":12,"c":0.396,"f":60.1},{"m":0.75,"j":13,"c":0.429,"f":61.3},{"m":0.75,"j":14,"c":0.462,"f":62.6},{"m":0.75,"j":15,"c":0.495,"f":63.8},{"m":0.75,"j":16,"c":0.528,"f":65},{"m":0.75,"j":17,"c":0.561,"f":66.3},{"m":0.75,"j":18,"c":0.594,"f":67.5},{"m":0.75,"j":19,"c":0.627,"f":68.8},{"m":0.75,"j":20,"c":0.66,"f":70},
{"m":0.8,"j":0,"c":0,"f":45.5},{"m":0.8,"j":1,"c":0.033,"f":46.7},{"m":0.8,"j":2,"c":0.065,"f":48},{"m":0.8,"j":3,"c":0.098,"f":49.2},{"m":0.8,"j":4,"c":0.13,"f":50.4},{"m":0.8,"j":5,"c":0.163,"f":51.6},{"m":0.8,"j":6,"c":0.196,"f":52.9},{"m":0.8,"j":7,"c":0.228,"f":54.1},{"m":0.8,"j":8,"c":0.261,"f":55.3},{"m":0.8,"j":9,"c":0.293,"f":56.5},{"m":0.8,"j":10,"c":0.326,"f":57.8},{"m":0.8,"j":11,"c":0.359,"f":59},{"m":0.8,"j":12,"c":0.391,"f":60.2},{"m":0.8,"j":13,"c":0.424,"f":61.4},{"m":0.8,"j":14,"c":0.456,"f":62.7},{"m":0.8,"j":15,"c":0.489,"f":63.9},{"m":0.8,"j":16,"c":0.522,"f":65.1},{"m":0.8,"j":17,"c":0.554,"f":66.3},{"m":0.8,"j":18,"c":0.587,"f":67.6},{"m":0.8,"j":19,"c":0.619,"f":68.8},{"m":0.8,"j":20,"c":0.652,"f":70},
{"m":0.85,"j":0,"c":0,"f":45.7},{"m":0.85,"j":1,"c":0.032,"f":46.9},{"m":0.85,"j":2,"c":0.064,"f":48.1},{"m":0.85,"j":3,"c":0.097,"f":49.3},{"m":0.85,"j":4,"c":0.129,"f":50.6},{"m":0.85,"j":5,"c":0.161,"f":51.8},{"m":0.85,"j":6,"c":0.193,"f":53},{"m":0.85,"j":7,"c":0.225,"f":54.2},{"m":0.85,"j":8,"c":0.258,"f":55.4},{"m":0.85,"j":9,"c":0.29,"f":56.6},{"m":0.85,"j":10,"c":0.322,"f":57.9},{"m":0.85,"j":11,"c":0.354,"f":59.1},{"m":0.85,"j":12,"c":0.386,"f":60.3},{"m":0.85,"j":13,"c":0.419,"f":61.5},{"m":0.85,"j":14,"c":0.451,"f":62.7},{"m":0.85,"j":15,"c":0.483,"f":63.9},{"m":0.85,"j":16,"c":0.515,"f":65.1},{"m":0.85,"j":17,"c":0.547,"f":66.4},{"m":0.85,"j":18,"c":0.58,"f":67.6},{"m":0.85,"j":19,"c":0.612,"f":68.8},{"m":0.85,"j":20,"c":0.644,"f":70},
{"m":0.9,"j":0,"c":0,"f":45.8},{"m":0.9,"j":1,"c":0.032,"f":47},{"m":0.9,"j":2,"c":0.064,"f":48.2},{"m":0.9,"j":3,"c":0.095,"f":49.4},{"m":0.9,"j":4,"c":0.127,"f":50.6},{"m":0.9,"j":5,"c":0.159,"f":51.9},{"m":0.9,"j":6,"c":0.191,"f":53.1},{"m":0.9,"j":7,"c":0.223,"f":54.3},{"m":0.9,"j":8,"c":0.254,"f":55.5},{"m":0.9,"j":9,"c":0.286,"f":56.7},{"m":0.9,"j":10,"c":0.318,"f":57.9},{"m":0.9,"j":11,"c":0.35,"f":59.1},{"m":0.9,"j":12,"c":0.382,"f":60.3},{"m":0.9,"j":13,"c":0.413,"f":61.5},{"m":0.9,"j":14,"c":0.445,"f":62.7},{"m":0.9,"j":15,"c":0.477,"f":64},{"m":0.9,"j":16,"c":0.509,"f":65.2},{"m":0.9,"j":17,"c":0.541,"f":66.4},{"m":0.9,"j":18,"c":0.572,"f":67.6},{"m":0.9,"j":19,"c":0.604,"f":68.8},{"m":0.9,"j":20,"c":0.636,"f":70},
{"m":0.95,"j":0,"c":0,"f":46},{"m":0.95,"j":1,"c":0.031,"f":47.2},{"m":0.95,"j":2,"c":0.063,"f":48.4},{"m":0.95,"j":3,"c":0.094,"f":49.6},{"m":0.95,"j":4,"c":0.126,"f":50.8},{"m":0.95,"j":5,"c":0.157,"f":52},{"m":0.95,"j":6,"c":0.188,"f":53.2},{"m":0.95,"j":7,"c":0.22,"f":54.4},{"m":0.95,"j":8,"c":0.251,"f":55.6},{"m":0.95,"j":9,"c":0.283,"f":56.8},{"m":0.95,"j":10,"c":0.314,"f":58},{"m":0.95,"j":11,"c":0.345,"f":59.2},{"m":0.95,"j":12,"c":0.377,"f":60.4},{"m":0.95,"j":13,"c":0.408,"f":61.6},{"m":0.95,"j":14,"c":0.44,"f":62.8},{"m":0.95,"j":15,"c":0.471,"f":64},{"m":0.95,"j":16,"c":0.502,"f":65.2},{"m":0.95,"j":17,"c":0.534,"f":66.4},{"m":0.95,"j":18,"c":0.565,"f":67.6},{"m":0.95,"j":19,"c":0.597,"f":68.8},{"m":0.95,"j":20,"c":0.628,"f":70},
{"m":1,"j":0,"c":0,"f":46},{"m":1,"j":1,"c":0.031,"f":47.2},{"m":1,"j":2,"c":0.062,"f":48.4},{"m":1,"j":3,"c":0.093,"f":49.6},{"m":1,"j":4,"c":0.124,"f":50.8},{"m":1,"j":5,"c":0.155,"f":52},{"m":1,"j":6,"c":0.186,"f":53.2},{"m":1,"j":7,"c":0.217,"f":54.4},{"m":1,"j":8,"c":0.248,"f":55.6},{"m":1,"j":9,"c":0.279,"f":56.8},{"m":1,"j":10,"c":0.31,"f":58},{"m":1,"j":11,"c":0.341,"f":59.2},{"m":1,"j":12,"c":0.372,"f":60.4},{"m":1,"j":13,"c":0.403,"f":61.6},{"m":1,"j":14,"c":0.434,"f":62.8},{"m":1,"j":15,"c":0.465,"f":64},{"m":1,"j":16,"c":0.496,"f":65.2},{"m":1,"j":17,"c":0.527,"f":66.4},{"m":1,"j":18,"c":0.558,"f":67.6},{"m":1,"j":19,"c":0.589,"f":68.8},{"m":1,"j":20,"c":0.62,"f":70}
],
"gridA":[
{"k":"g","m":0.2,"c":0,"f":0,"m2":0.2,"c2":1,"f2":0},{"k":"g","m":0.4,"c":0,"f":0,"m2":0.4,"c2":1,"f2":0},{"k":"g","m":0.6,"c":0,"f":0,"m2":0.6,"c2":1,"f2":0},{"k":"g","m":0.8,"c":0,"f":0,"m2":0.8,"c2":1,"f2":0},{"k":"g","m":0,"c":0,"f":0,"m2":0,"c2":1,"f2":0},
{"k":"g","m":0,"c":0.2,"f":0,"m2":1,"c2":0.2,"f2":0},{"k":"g","m":0,"c":0.4,"f":0,"m2":1,"c2":0.4,"f2":0},{"k":"g","m":0,"c":0.6,"f":0,"m2":1,"c2":0.6,"f2":0},{"k":"g","m":0,"c":0.8,"f":0,"m2":1,"c2":0.8,"f2":0},{"k":"g","m":0,"c":1,"f":0,"m2":1,"c2":1,"f2":0},
{"k":"g","m":0,"c":0.2,"f":0,"m2":0,"c2":0.2,"f2":90},{"k":"g","m":0,"c":0.4,"f":0,"m2":0,"c2":0.4,"f2":90},{"k":"g","m":0,"c":0.6,"f":0,"m2":0,"c2":0.6,"f2":90},{"k":"g","m":0,"c":0.8,"f":0,"m2":0,"c2":0.8,"f2":90},{"k":"g","m":0,"c":1,"f":0,"m2":0,"c2":1,"f2":90},
{"k":"g","m":0.2,"c":1,"f":0,"m2":0.2,"c2":1,"f2":90},{"k":"g","m":0.4,"c":1,"f":0,"m2":0.4,"c2":1,"f2":90},{"k":"g","m":0.6,"c":1,"f":0,"m2":0.6,"c2":1,"f2":90},{"k":"g","m":0.8,"c":1,"f":0,"m2":0.8,"c2":1,"f2":90},{"k":"g","m":1,"c":1,"f":0,"m2":1,"c2":1,"f2":90},
{"k":"g","m":0,"c":0,"f":10,"m2":0,"c2":1,"f2":10},{"k":"g","m":0,"c":0,"f":20,"m2":0,"c2":1,"f2":20},{"k":"g","m":0,"c":0,"f":30,"m2":0,"c2":1,"f2":30},{"k":"g","m":0,"c":0,"f":40,"m2":0,"c2":1,"f2":40},{"k":"g","m":0,"c":0,"f":50,"m2":0,"c2":1,"f2":50},{"k":"g","m":0,"c":0,"f":60,"m2":0,"c2":1,"f2":60},{"k":"g","m":0,"c":0,"f":70,"m2":0,"c2":1,"f2":70},{"k":"g","m":0,"c":0,"f":80,"m2":0,"c2":1,"f2":80},{"k":"g","m":0,"c":0,"f":90,"m2":0,"c2":1,"f2":90},
{"k":"g","m":0,"c":1,"f":10,"m2":1,"c2":1,"f2":10},{"k":"g","m":0,"c":1,"f":20,"m2":1,"c2":1,"f2":20},{"k":"g","m":0,"c":1,"f":30,"m2":1,"c2":1,"f2":30},{"k":"g","m":0,"c":1,"f":40,"m2":1,"c2":1,"f2":40},{"k":"g","m":0,"c":1,"f":50,"m2":1,"c2":1,"f2":50},{"k":"g","m":0,"c":1,"f":60,"m2":1,"c2":1,"f2":60},{"k":"g","m":0,"c":1,"f":70,"m2":1,"c2":1,"f2":70},{"k":"g","m":0,"c":1,"f":80,"m2":1,"c2":1,"f2":80},{"k":"g","m":0,"c":1,"f":90,"m2":1,"c2":1,"f2":90},
{"k":"x","m":0,"c":0,"f":0,"m2":0,"c2":0,"f2":90},{"k":"x","m":0,"c":0,"f":0,"m2":1,"c2":0,"f2":0},{"k":"x","m":1,"c":0,"f":0,"m2":1,"c2":1,"f2":0}
],
"gridB":[
{"k":"g","m":0.2,"c":0,"f":0,"m2":0.2,"c2":1,"f2":0},{"k":"g","m":0.4,"c":0,"f":0,"m2":0.4,"c2":1,"f2":0},{"k":"g","m":0.6,"c":0,"f":0,"m2":0.6,"c2":1,"f2":0},{"k":"g","m":0.8,"c":0,"f":0,"m2":0.8,"c2":1,"f2":0},{"k":"g","m":0,"c":0,"f":0,"m2":0,"c2":1,"f2":0},
{"k":"g","m":0,"c":0.2,"f":0,"m2":1,"c2":0.2,"f2":0},{"k":"g","m":0,"c":0.4,"f":0,"m2":1,"c2":0.4,"f2":0},{"k":"g","m":0,"c":0.6,"f":0,"m2":1,"c2":0.6,"f2":0},{"k":"g","m":0,"c":0.8,"f":0,"m2":1,"c2":0.8,"f2":0},{"k":"g","m":0,"c":1,"f":0,"m2":1,"c2":1,"f2":0},
{"k":"g","m":0,"c":0.2,"f":0,"m2":0,"c2":0.2,"f2":70},{"k":"g","m":0,"c":0.4,"f":0,"m2":0,"c2":0.4,"f2":70},{"k":"g","m":0,"c":0.6,"f":0,"m2":0,"c2":0.6,"f2":70},{"k":"g","m":0,"c":0.8,"f":0,"m2":0,"c2":0.8,"f2":70},{"k":"g","m":0,"c":1,"f":0,"m2":0,"c2":1,"f2":70},
{"k":"g","m":0.2,"c":1,"f":0,"m2":0.2,"c2":1,"f2":70},{"k":"g","m":0.4,"c":1,"f":0,"m2":0.4,"c2":1,"f2":70},{"k":"g","m":0.6,"c":1,"f":0,"m2":0.6,"c2":1,"f2":70},{"k":"g","m":0.8,"c":1,"f":0,"m2":0.8,"c2":1,"f2":70},{"k":"g","m":1,"c":1,"f":0,"m2":1,"c2":1,"f2":70},
{"k":"g","m":0,"c":0,"f":10,"m2":0,"c2":1,"f2":10},{"k":"g","m":0,"c":0,"f":20,"m2":0,"c2":1,"f2":20},{"k":"g","m":0,"c":0,"f":30,"m2":0,"c2":1,"f2":30},{"k":"g","m":0,"c":0,"f":40,"m2":0,"c2":1,"f2":40},{"k":"g","m":0,"c":0,"f":50,"m2":0,"c2":1,"f2":50},{"k":"g","m":0,"c":0,"f":60,"m2":0,"c2":1,"f2":60},{"k":"g","m":0,"c":0,"f":70,"m2":0,"c2":1,"f2":70},
{"k":"g","m":0,"c":1,"f":10,"m2":1,"c2":1,"f2":10},{"k":"g","m":0,"c":1,"f":20,"m2":1,"c2":1,"f2":20},{"k":"g","m":0,"c":1,"f":30,"m2":1,"c2":1,"f2":30},{"k":"g","m":0,"c":1,"f":40,"m2":1,"c2":1,"f2":40},{"k":"g","m":0,"c":1,"f":50,"m2":1,"c2":1,"f2":50},{"k":"g","m":0,"c":1,"f":60,"m2":1,"c2":1,"f2":60},{"k":"g","m":0,"c":1,"f":70,"m2":1,"c2":1,"f2":70},
{"k":"x","m":0,"c":0,"f":0,"m2":0,"c2":0,"f2":70},{"k":"x","m":0,"c":0,"f":0,"m2":1,"c2":0,"f2":0},{"k":"x","m":1,"c":0,"f":0,"m2":1,"c2":1,"f2":0}
],
"textA":[
{"k":"z","m":0,"c":-0.1,"f":0,"t":"0"},{"k":"z","m":0,"c":-0.1,"f":10,"t":"10"},{"k":"z","m":0,"c":-0.1,"f":20,"t":"20"},{"k":"z","m":0,"c":-0.1,"f":30,"t":"30"},{"k":"z","m":0,"c":-0.1,"f":40,"t":"40"},{"k":"z","m":0,"c":-0.1,"f":50,"t":"50"},{"k":"z","m":0,"c":-0.1,"f":60,"t":"60"},{"k":"z","m":0,"c":-0.1,"f":70,"t":"70"},{"k":"z","m":0,"c":-0.1,"f":80,"t":"80"},{"k":"z","m":0,"c":-0.1,"f":90,"t":"90"},
{"k":"m","m":0.2,"c":-0.1,"f":0,"t":"0.2"},{"k":"m","m":0.4,"c":-0.1,"f":0,"t":"0.4"},{"k":"m","m":0.6,"c":-0.1,"f":0,"t":"0.6"},{"k":"m","m":0.8,"c":-0.1,"f":0,"t":"0.8"},{"k":"m","m":1,"c":-0.1,"f":0,"t":"1"},
{"k":"c","m":1.08,"c":0,"f":0,"t":"0"},{"k":"c","m":1.08,"c":0.2,"f":0,"t":"0.2"},{"k":"c","m":1.08,"c":0.4,"f":0,"t":"0.4"},{"k":"c","m":1.08,"c":0.6,"f":0,"t":"0.6"},{"k":"c","m":1.08,"c":0.8,"f":0,"t":"0.8"},{"k":"c","m":1.08,"c":1,"f":0,"t":"1"},
{"k":"tz","m":0,"c":-0.19,"f":45,"t":"Fitness"},{"k":"tm","m":0.5,"c":-0.2,"f":0,"t":"Level of the Mating Trait"},{"k":"tc","m":1.2,"c":0.5,"f":0,"t":"Level of Additional Care"}
],
"textB":[
{"k":"z","m":0,"c":-0.1,"f":0,"t":"0"},{"k":"z","m":0,"c":-0.1,"f":10,"t":"10"},{"k":"z","m":0,"c":-0.1,"f":20,"t":"20"},{"k":"z","m":0,"c":-0.1,"f":30,"t":"30"},{"k":"z","m":0,"c":-0.1,"f":40,"t":"40"},{"k":"z","m":0,"c":-0.1,"f":50,"t":"50"},{"k":"z","m":0,"c":-0.1,"f":60,"t":"60"},{"k":"z","m":0,"c":-0.1,"f":70,"t":"70"},
{"k":"m","m":0.2,"c":-0.1,"f":0,"t":"0.2"},{"k":"m","m":0.4,"c":-0.1,"f":0,"t":"0.4"},{"k":"m","m":0.6,"c":-0.1,"f":0,"t":"0.6"},{"k":"m","m":0.8,"c":-0.1,"f":0,"t":"0.8"},{"k":"m","m":1,"c":-0.1,"f":0,"t":"1"},
{"k":"c","m":1.08,"c":0,"f":0,"t":"0"},{"k":"c","m":1.08,"c":0.2,"f":0,"t":"0.2"},{"k":"c","m":1.08,"c":0.4,"f":0,"t":"0.4"},{"k":"c","m":1.08,"c":0.6,"f":0,"t":"0.6"},{"k":"c","m":1.08,"c":0.8,"f":0,"t":"0.8"},{"k":"c","m":1.08,"c":1,"f":0,"t":"1"},
{"k":"tz","m":0,"c":-0.2,"f":35,"t":"Fitness"},{"k":"tm","m":0.5,"c":-0.2,"f":0,"t":"Level of the Mating Trait"},{"k":"tc","m":1.2,"c":0.5,"f":0,"t":"Level of Additional Care"}
]},
"layer":[
{"data":{"name":"gridA"},"transform":[
{"calculate":"1-.215*(datum.m-datum.c)-.2*datum.f/90","as":"w"},{"calculate":"120.5+81*(datum.m+datum.c-1)/datum.w","as":"x"},{"calculate":"599-(427-147.5*(datum.m-datum.c))/datum.w","as":"y"},
{"calculate":"1-.215*(datum.m2-datum.c2)-.2*datum.f2/90","as":"w2"},{"calculate":"120.5+81*(datum.m2+datum.c2-1)/datum.w2","as":"x2"},{"calculate":"599-(427-147.5*(datum.m2-datum.c2))/datum.w2","as":"y2"}],
"mark":{"type":"rule","strokeWidth":0.8},
"encoding":{"longitude":{"field":"x","type":"quantitative"},"latitude":{"field":"y","type":"quantitative"},"longitude2":{"field":"x2"},"latitude2":{"field":"y2"},"stroke":{"field":"k","type":"nominal","scale":{"domain":["g","x"],"range":["#f0f0f0","#d8d8d8"]},"legend":null}}},
{"data":{"name":"gridB"},"transform":[
{"calculate":"1-.195*(datum.m-datum.c)-.211*datum.f/70","as":"w"},{"calculate":"512.5+78.5*(datum.m+datum.c-1)/datum.w","as":"x"},{"calculate":"561-(389-130.6*(datum.m-datum.c))/datum.w","as":"y"},
{"calculate":"1-.195*(datum.m2-datum.c2)-.211*datum.f2/70","as":"w2"},{"calculate":"512.5+78.5*(datum.m2+datum.c2-1)/datum.w2","as":"x2"},{"calculate":"561-(389-130.6*(datum.m2-datum.c2))/datum.w2","as":"y2"}],
"mark":{"type":"rule","strokeWidth":0.8},
"encoding":{"longitude":{"field":"x","type":"quantitative"},"latitude":{"field":"y","type":"quantitative"},"longitude2":{"field":"x2"},"latitude2":{"field":"y2"},"stroke":{"field":"k","type":"nominal","scale":{"domain":["g","x"],"range":["#f0f0f0","#d8d8d8"]},"legend":null}}},
{"data":{"name":"surfaceA"},"transform":[
{"window":[{"op":"lead","field":"m","as":"m1"},{"op":"lead","field":"c","as":"c1"},{"op":"lead","field":"f","as":"f1"}],"groupby":["c"],"sort":[{"field":"m","order":"ascending"}]},
{"window":[{"op":"lead","field":"c","as":"c3"},{"op":"lead","field":"f","as":"f3"},{"op":"lead","field":"c1","as":"c2"},{"op":"lead","field":"f1","as":"f2"}],"groupby":["m"],"sort":[{"field":"c","order":"ascending"}]},
{"filter":"isValid(datum.m1)&&isValid(datum.f3)"},
{"calculate":"(datum.f+datum.f1+datum.f2+datum.f3)/4","as":"fitness"},
{"calculate":"1-.215*(datum.m-datum.c)-.2*datum.f/90","as":"w0"},{"calculate":"120.5+81*(datum.m+datum.c-1)/datum.w0","as":"x0"},{"calculate":"599-(427-147.5*(datum.m-datum.c))/datum.w0","as":"y0"},
{"calculate":"1-.215*(datum.m1-datum.c1)-.2*datum.f1/90","as":"w1"},{"calculate":"120.5+81*(datum.m1+datum.c1-1)/datum.w1","as":"x1"},{"calculate":"599-(427-147.5*(datum.m1-datum.c1))/datum.w1","as":"y1"},
{"calculate":"1-.215*(datum.m1-datum.c2)-.2*datum.f2/90","as":"w2"},{"calculate":"120.5+81*(datum.m1+datum.c2-1)/datum.w2","as":"x2"},{"calculate":"599-(427-147.5*(datum.m1-datum.c2))/datum.w2","as":"y2"},
{"calculate":"1-.215*(datum.m-datum.c3)-.2*datum.f3/90","as":"w3"},{"calculate":"120.5+81*(datum.m+datum.c3-1)/datum.w3","as":"x3"},{"calculate":"599-(427-147.5*(datum.m-datum.c3))/datum.w3","as":"y3"},
{"calculate":"{type:'Polygon',coordinates:[[[datum.x0,datum.y0],[datum.x1,datum.y1],[datum.x2,datum.y2],[datum.x3,datum.y3],[datum.x0,datum.y0]]]}","as":"geo"}],
"mark":{"type":"geoshape","strokeWidth":1.3,"strokeJoin":"round"},
"encoding":{"shape":{"field":"geo","type":"geojson"},
"fill":{"field":"fitness","type":"quantitative","scale":{"domain":[35.7,38,41,45,50,54,58,62,66,69.5],"range":["#0a0614","#1b0b33","#2f1158","#4c1872","#85286f","#b93c5a","#c8583f","#c9744c","#c99a65","#c9bb78"]},"legend":null},
"stroke":{"field":"fitness","type":"quantitative","scale":{"domain":[35.7,38,41,45,50,54,58,62,66,69.5],"range":["#0a0614","#1b0b33","#2f1158","#4c1872","#85286f","#b93c5a","#c8583f","#c9744c","#c99a65","#c9bb78"]},"legend":null}}},
{"data":{"name":"surfaceB"},"transform":[
{"window":[{"op":"lead","field":"m","as":"m1"},{"op":"lead","field":"c","as":"c1"},{"op":"lead","field":"f","as":"f1"}],"groupby":["j"],"sort":[{"field":"m","order":"ascending"}]},
{"window":[{"op":"lead","field":"c","as":"c3"},{"op":"lead","field":"f","as":"f3"},{"op":"lead","field":"c1","as":"c2"},{"op":"lead","field":"f1","as":"f2"}],"groupby":["m"],"sort":[{"field":"j","order":"ascending"}]},
{"filter":"isValid(datum.m1)&&isValid(datum.f3)"},
{"calculate":"(datum.f+datum.f1+datum.f2+datum.f3)/4","as":"fitness"},
{"calculate":"1-.195*(datum.m-datum.c)-.211*datum.f/70","as":"w0"},{"calculate":"512.5+78.5*(datum.m+datum.c-1)/datum.w0","as":"x0"},{"calculate":"561-(389-130.6*(datum.m-datum.c))/datum.w0","as":"y0"},
{"calculate":"1-.195*(datum.m1-datum.c1)-.211*datum.f1/70","as":"w1"},{"calculate":"512.5+78.5*(datum.m1+datum.c1-1)/datum.w1","as":"x1"},{"calculate":"561-(389-130.6*(datum.m1-datum.c1))/datum.w1","as":"y1"},
{"calculate":"1-.195*(datum.m1-datum.c2)-.211*datum.f2/70","as":"w2"},{"calculate":"512.5+78.5*(datum.m1+datum.c2-1)/datum.w2","as":"x2"},{"calculate":"561-(389-130.6*(datum.m1-datum.c2))/datum.w2","as":"y2"},
{"calculate":"1-.195*(datum.m-datum.c3)-.211*datum.f3/70","as":"w3"},{"calculate":"512.5+78.5*(datum.m+datum.c3-1)/datum.w3","as":"x3"},{"calculate":"561-(389-130.6*(datum.m-datum.c3))/datum.w3","as":"y3"},
{"calculate":"{type:'Polygon',coordinates:[[[datum.x0,datum.y0],[datum.x1,datum.y1],[datum.x2,datum.y2],[datum.x3,datum.y3],[datum.x0,datum.y0]]]}","as":"geo"}],
"mark":{"type":"geoshape","strokeWidth":1.3,"strokeJoin":"round"},
"encoding":{"shape":{"field":"geo","type":"geojson"},
"fill":{"field":"fitness","type":"quantitative","scale":{"domain":[36,38,41,45,50,55,60,65,70],"range":["#0a0614","#150a2e","#2a1052","#46176f","#6d1f76","#97306b","#b8405c","#c4554b","#c87c50"]},"legend":null},
"stroke":{"field":"fitness","type":"quantitative","scale":{"domain":[36,38,41,45,50,55,60,65,70],"range":["#0a0614","#150a2e","#2a1052","#46176f","#6d1f76","#97306b","#b8405c","#c4554b","#c87c50"]},"legend":null}}},
{"data":{"name":"surfaceA"},"mark":{"type":"point","size":0,"filled":true,"opacity":1},"encoding":{"longitude":{"datum":0},"latitude":{"datum":0},
"fill":{"field":"f","type":"quantitative","scale":{"domain":[35.7,69.5],"scheme":"magma"},"legend":{"type":"gradient","orient":"none","legendX":286,"legendY":2,"title":null,"gradientLength":119,"gradientThickness":13,"values":[40,45,50,55,60,65],"labelFontSize":6,"labelColor":"#666666","labelFont":"Open Sans","gradientStrokeColor":"#999999","gradientStrokeWidth":1,"labelOffset":3,"gradientOpacity":1}}}},
{"data":{"name":"surfaceB"},"mark":{"type":"point","size":0,"filled":true,"opacity":1},"encoding":{"longitude":{"datum":0},"latitude":{"datum":0},
"fill":{"field":"f","type":"quantitative","scale":{"domain":[36,79.3],"scheme":"magma"},"legend":{"type":"gradient","orient":"none","legendX":677,"legendY":2,"title":null,"gradientLength":119,"gradientThickness":14,"values":[40,50,60,70],"labelFontSize":6,"labelColor":"#666666","labelFont":"Open Sans","gradientStrokeColor":"#999999","gradientStrokeWidth":1,"labelOffset":3,"gradientOpacity":1}}}},
{"data":{"name":"textA"},"transform":[
{"calculate":"1-.215*(datum.m-datum.c)-.2*datum.f/90","as":"w"},{"calculate":"120.5+81*(datum.m+datum.c-1)/datum.w","as":"x"},{"calculate":"599-(427-147.5*(datum.m-datum.c))/datum.w","as":"y"}],
"mark":{"type":"text","font":"Open Sans","color":"#666666","align":"center","baseline":"middle"},
"encoding":{"longitude":{"field":"x","type":"quantitative"},"latitude":{"field":"y","type":"quantitative"},"text":{"field":"t"},
"angle":{"field":"k","type":"nominal","scale":{"domain":["z","m","c","tz","tm","tc"],"range":[345,320,40,78,41,319]},"legend":null},
"size":{"field":"k","type":"nominal","scale":{"domain":["z","m","c","tz","tm","tc"],"range":[6,6,6,7,7.5,7.5]},"legend":null}}},
{"data":{"name":"textB"},"transform":[
{"calculate":"1-.195*(datum.m-datum.c)-.211*datum.f/70","as":"w"},{"calculate":"512.5+78.5*(datum.m+datum.c-1)/datum.w","as":"x"},{"calculate":"561-(389-130.6*(datum.m-datum.c))/datum.w","as":"y"}],
"mark":{"type":"text","font":"Open Sans","color":"#666666","align":"center","baseline":"middle"},
"encoding":{"longitude":{"field":"x","type":"quantitative"},"latitude":{"field":"y","type":"quantitative"},"text":{"field":"t"},
"angle":{"field":"k","type":"nominal","scale":{"domain":["z","m","c","tz","tm","tc"],"range":[345,320,40,78,41,319]},"legend":null},
"size":{"field":"k","type":"nominal","scale":{"domain":["z","m","c","tz","tm","tc"],"range":[6,6,6,7,7.5,7.5]},"legend":null}}},
{"data":{"values":[{"panel":"(a)"}]},"mark":{"type":"text","x":9,"y":8,"font":"Open Sans","fontWeight":"bold","fontSize":12,"color":"#222222"},"encoding":{"text":{"field":"panel"}}},
{"data":{"values":[{"panel":"(b)"}]},"mark":{"type":"text","x":384,"y":8,"font":"Open Sans","fontWeight":"bold","fontSize":12,"color":"#222222"},"encoding":{"text":{"field":"panel"}}}
],
"resolve":{"scale":{"fill":"independent","stroke":"independent"},"legend":{"fill":"independent"}}}
